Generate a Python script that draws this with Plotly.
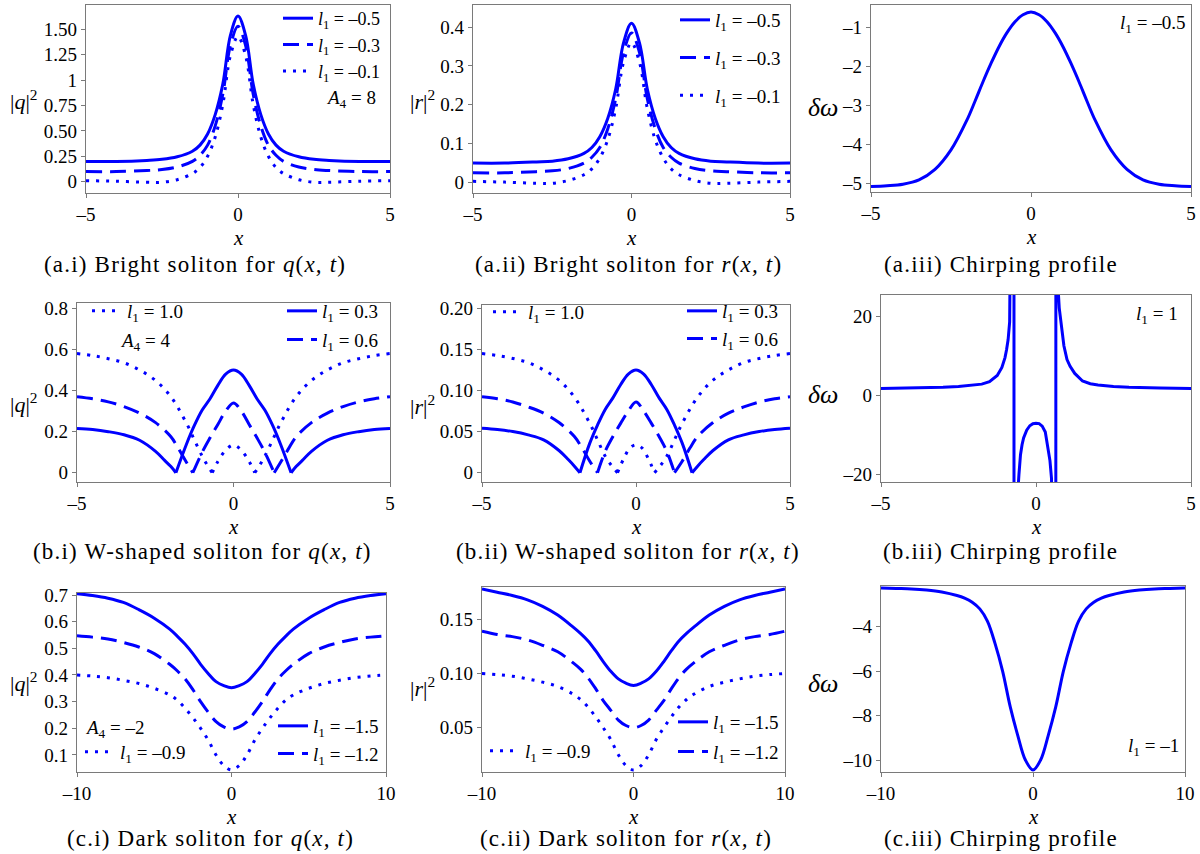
import plotly.graph_objects as go

W, H = 1200, 854
BLUE = "#0000ff"
FRAME = "#7a7a7a"
SERIF = "Liberation Serif"

# ---- row a: bright solitons (x from -5 to 5) ----
xa = [-5, -4, -3, -2.5, -2, -1.5, -1.25, -1, -0.75, -0.5, -0.25, 0,
      0.25, 0.5, 0.75, 1, 1.25, 1.5, 2, 2.5, 3, 4, 5]
q_a_l05 = [0.20, 0.20, 0.21, 0.22, 0.245, 0.30, 0.36, 0.47, 0.66, 0.96, 1.44, 1.63,
           1.44, 0.96, 0.66, 0.47, 0.36, 0.30, 0.245, 0.22, 0.21, 0.20, 0.20]
q_a_l03 = [0.10, 0.10, 0.11, 0.12, 0.145, 0.20, 0.26, 0.36, 0.55, 0.86, 1.34, 1.53,
           1.34, 0.86, 0.55, 0.36, 0.26, 0.20, 0.145, 0.12, 0.11, 0.10, 0.10]
q_a_l01 = [0.01, 0.005, -0.005, -0.005, 0.02, 0.08, 0.14, 0.25, 0.44, 0.76, 1.24, 1.43,
           1.24, 0.76, 0.44, 0.25, 0.14, 0.08, 0.02, -0.005, -0.005, 0.005, 0.01]
r_a_l05 = [0.05, 0.05, 0.053, 0.055, 0.061, 0.075, 0.09, 0.118, 0.165, 0.24, 0.36, 0.41,
           0.36, 0.24, 0.165, 0.118, 0.09, 0.075, 0.061, 0.055, 0.053, 0.05, 0.05]
r_a_l03 = [0.025, 0.025, 0.028, 0.03, 0.036, 0.05, 0.065, 0.09, 0.138, 0.215, 0.335, 0.385,
           0.335, 0.215, 0.138, 0.09, 0.065, 0.05, 0.036, 0.03, 0.028, 0.025, 0.025]
r_a_l01 = [0.003, 0.001, -0.002, -0.002, 0.005, 0.02, 0.035, 0.063, 0.11, 0.19, 0.31, 0.36,
           0.31, 0.19, 0.11, 0.063, 0.035, 0.02, 0.005, -0.002, -0.002, 0.001, 0.003]
x_chirp_a = [-5, -4.5, -4, -3.5, -3, -2.5, -2, -1.75, -1.5, -1.25, -1, -0.75, -0.5, -0.25, 0,
             0.25, 0.5, 0.75, 1, 1.25, 1.5, 1.75, 2, 2.5, 3, 3.5, 4, 4.5, 5]
chirp_a = [-5.09, -5.07, -5.03, -4.92, -4.65, -4.15, -3.38, -2.9, -2.4, -1.93, -1.5, -1.14, -0.86, -0.68, -0.61,
           -0.68, -0.86, -1.14, -1.5, -1.93, -2.4, -2.9, -3.38, -4.15, -4.65, -4.92, -5.03, -5.07, -5.09]

# ---- row b: W-shaped solitons (None splits the curve at each cusp) ----
x_b_l03 = [-5, -4.5, -4, -3.5, -3, -2.5, -2.2, -2, -1.84, None,
           -1.84, -1.5, -1.25, -1, -0.75, -0.5, -0.25, 0, 0.25, 0.5, 0.75, 1, 1.25, 1.5, 1.84, None,
           1.84, 2, 2.2, 2.5, 3, 3.5, 4, 4.5, 5]
q_b_l03 = [0.215, 0.21, 0.2, 0.185, 0.158, 0.105, 0.06, 0.03, 0, None,
           0, 0.14, 0.23, 0.305, 0.36, 0.425, 0.48, 0.5, 0.48, 0.425, 0.36, 0.305, 0.23, 0.14, 0, None,
           0, 0.03, 0.06, 0.105, 0.158, 0.185, 0.2, 0.21, 0.215]
x_b_l06 = [-5, -4.5, -4, -3.5, -3, -2.5, -2, -1.75, -1.5, -1.3, None,
           -1.3, -1, -0.75, -0.5, -0.25, 0, 0.25, 0.5, 0.75, 1, 1.3, None,
           1.3, 1.5, 1.75, 2, 2.5, 3, 3.5, 4, 4.5, 5]
q_b_l06 = [0.37, 0.36, 0.345, 0.322, 0.29, 0.245, 0.175, 0.115, 0.05, 0, None,
           0, 0.1, 0.17, 0.235, 0.3, 0.34, 0.3, 0.235, 0.17, 0.1, 0, None,
           0, 0.05, 0.115, 0.175, 0.245, 0.29, 0.322, 0.345, 0.36, 0.37]
x_b_l10 = [-5, -4.5, -4, -3.5, -3, -2.5, -2, -1.5, -1.25, -1, -0.85, -0.68, None,
           -0.68, -0.5, -0.25, 0, 0.25, 0.5, 0.68, None,
           0.68, 0.85, 1, 1.25, 1.5, 2, 2.5, 3, 3.5, 4, 4.5, 5]
q_b_l10 = [0.58, 0.57, 0.555, 0.535, 0.5, 0.45, 0.37, 0.24, 0.16, 0.08, 0.04, 0, None,
           0, 0.055, 0.11, 0.135, 0.11, 0.055, 0, None,
           0, 0.04, 0.08, 0.16, 0.24, 0.37, 0.45, 0.5, 0.535, 0.555, 0.57, 0.58]

xr_b_l03 = [-5, -4.5, -4, -3.5, -3, -2.5, -2.2, -2, -1.82, None,
            -1.82, -1.5, -1.25, -1, -0.75, -0.5, -0.25, 0, 0.25, 0.5, 0.75, 1, 1.25, 1.5, 1.82, None,
            1.82, 2, 2.2, 2.5, 3, 3.5, 4, 4.5, 5]
r_b_l03 = [0.054, 0.0525, 0.05, 0.046, 0.04, 0.027, 0.016, 0.008, 0, None,
           0, 0.036, 0.058, 0.077, 0.091, 0.107, 0.12, 0.125, 0.12, 0.107, 0.091, 0.077, 0.058, 0.036, 0, None,
           0, 0.008, 0.016, 0.027, 0.04, 0.046, 0.05, 0.0525, 0.054]
xr_b_l06 = [-5, -4.5, -4, -3.5, -3, -2.5, -2, -1.75, -1.5, -1.25, None,
            -1.25, -1, -0.75, -0.5, -0.25, 0, 0.25, 0.5, 0.75, 1, 1.25, None,
            1.25, 1.5, 1.75, 2, 2.5, 3, 3.5, 4, 4.5, 5]
r_b_l06 = [0.0925, 0.09, 0.086, 0.08, 0.0725, 0.061, 0.044, 0.03, 0.014, 0, None,
           0, 0.026, 0.044, 0.06, 0.075, 0.086, 0.075, 0.06, 0.044, 0.026, 0, None,
           0, 0.014, 0.03, 0.044, 0.061, 0.0725, 0.08, 0.086, 0.09, 0.0925]
xr_b_l10 = [-5, -4.5, -4, -3.5, -3, -2.5, -2, -1.5, -1.25, -1, -0.8, -0.6, None,
            -0.6, -0.4, -0.2, 0, 0.2, 0.4, 0.6, None,
            0.6, 0.8, 1, 1.25, 1.5, 2, 2.5, 3, 3.5, 4, 4.5, 5]
r_b_l10 = [0.145, 0.1425, 0.139, 0.134, 0.125, 0.1125, 0.092, 0.06, 0.04, 0.02, 0.009, 0, None,
           0, 0.017, 0.03, 0.034, 0.03, 0.017, 0, None,
           0, 0.009, 0.02, 0.04, 0.06, 0.092, 0.1125, 0.125, 0.134, 0.139, 0.1425, 0.145]

x_chirp_b = [-5, -4, -3, -2.5, -2, -1.75, -1.5, -1.25, -1.1, -1, -0.95, -0.9, -0.85, -0.82,
             -0.78, -0.74, -0.72, -0.70, -0.65, -0.6, -0.55, -0.5, -0.45, -0.4, -0.3, -0.2,
             -0.1, 0, 0.1, 0.2, 0.3, 0.4, 0.45, 0.5, 0.55, 0.6, 0.63, 0.65, 0.68, 0.7, 0.72,
             0.75, 0.8, 0.85, 0.9, 1, 1.1, 1.25, 1.5, 1.75, 2, 2.5, 3, 4, 5]
chirp_b = [1.7, 1.8, 2.0, 2.2, 2.5, 2.8, 3.4, 5.0, 7.0, 9.5, 11.5, 14, 18.5, 26,
           45, 120, 600, -600, -50, -26, -20, -15, -12.5, -10.8, -8.8, -7.7,
           -7.2, -7.05, -7.15, -7.8, -9.3, -13.5, -16.5, -21, -32, -80, -600, 600, 120, 50, 26,
           22, 18.5, 16, 12.5, 9.0, 7.3, 5.5, 3.6, 2.9, 2.6, 2.2, 2.0, 1.8, 1.7]

# ---- row c: dark solitons (x from -10 to 10) ----
xc = [-10, -9, -8, -7, -6, -5, -4, -3.5, -3, -2.5, -2, -1.5, -1, -0.5, 0,
      0.5, 1, 1.5, 2, 2.5, 3, 3.5, 4, 5, 6, 7, 8, 9, 10]
q_c_l15 = [0.705, 0.698, 0.688, 0.672, 0.645, 0.613, 0.572, 0.545, 0.515, 0.48, 0.44, 0.405, 0.375, 0.36, 0.352,
           0.36, 0.375, 0.405, 0.44, 0.48, 0.515, 0.545, 0.572, 0.613, 0.645, 0.672, 0.688, 0.698, 0.705]
q_c_l12 = [0.547, 0.542, 0.535, 0.522, 0.505, 0.48, 0.44, 0.415, 0.385, 0.345, 0.3, 0.26, 0.225, 0.205, 0.197,
           0.205, 0.225, 0.26, 0.3, 0.345, 0.385, 0.415, 0.44, 0.48, 0.505, 0.522, 0.535, 0.542, 0.547]
q_c_l09 = [0.4, 0.396, 0.39, 0.38, 0.368, 0.35, 0.325, 0.305, 0.275, 0.24, 0.2, 0.155, 0.1, 0.06, 0.044,
           0.06, 0.1, 0.155, 0.2, 0.24, 0.275, 0.305, 0.325, 0.35, 0.368, 0.38, 0.39, 0.396, 0.4]
r_c_l15 = [0.178, 0.175, 0.172, 0.168, 0.162, 0.154, 0.143, 0.137, 0.13, 0.121, 0.111, 0.102, 0.095, 0.091, 0.089,
           0.091, 0.095, 0.102, 0.111, 0.121, 0.13, 0.137, 0.143, 0.154, 0.162, 0.168, 0.172, 0.175, 0.178]
r_c_l12 = [0.139, 0.136, 0.134, 0.131, 0.126, 0.12, 0.11, 0.104, 0.096, 0.086, 0.075, 0.066, 0.057, 0.052, 0.05,
           0.052, 0.057, 0.066, 0.075, 0.086, 0.096, 0.104, 0.11, 0.12, 0.126, 0.131, 0.134, 0.136, 0.139]
r_c_l09 = [0.1, 0.099, 0.0975, 0.095, 0.092, 0.088, 0.081, 0.076, 0.069, 0.06, 0.05, 0.039, 0.025, 0.015, 0.011,
           0.015, 0.025, 0.039, 0.05, 0.06, 0.069, 0.076, 0.081, 0.088, 0.092, 0.095, 0.0975, 0.099, 0.1]
x_chirp_c = [-10, -9, -8, -7, -6, -5, -4.5, -4, -3.5, -3, -2.5, -2, -1.5, -1, -0.5, 0,
             0.5, 1, 1.5, 2, 2.5, 3, 3.5, 4, 4.5, 5, 6, 7, 8, 9, 10]
chirp_c = [-2.26, -2.28, -2.3, -2.35, -2.44, -2.6, -2.72, -2.9, -3.2, -3.75, -4.75, -6.0, -7.6, -8.9, -10.0, -10.45,
           -10.0, -8.9, -7.6, -6.0, -4.75, -3.75, -3.2, -2.9, -2.72, -2.6, -2.44, -2.35, -2.3, -2.28, -2.26]

# tick labels
ticks_x5 = ([-5, 0, 5], ["–5", "0", "5"])
ticks_x10 = ([-10, 0, 10], ["–10", "0", "10"])
ticks_y = {
    1: ([0, 0.25, 0.5, 0.75, 1, 1.25, 1.5], ["0", "0.25", "0.50", "0.75", "1", "1.25", "1.50"]),
    2: ([0, 0.1, 0.2, 0.3, 0.4], ["0", "0.1", "0.2", "0.3", "0.4"]),
    3: ([-5, -4, -3, -2, -1], ["–5", "–4", "–3", "–2", "–1"]),
    4: ([0, 0.2, 0.4, 0.6, 0.8], ["0", "0.2", "0.4", "0.6", "0.8"]),
    5: ([0, 0.05, 0.1, 0.15, 0.2], ["0", "0.05", "0.10", "0.15", "0.20"]),
    6: ([-20, 0, 20], ["–20", "0", "20"]),
    7: ([0.1, 0.2, 0.3, 0.4, 0.5, 0.6, 0.7], ["0.1", "0.2", "0.3", "0.4", "0.5", "0.6", "0.7"]),
    8: ([0.05, 0.1, 0.15], ["0.05", "0.10", "0.15"]),
    9: ([-10, -8, -6, -4], ["–10", "–8", "–6", "–4"]),
}

# panel boxes in pixels: left, right, top, bottom ; then x range, y range
panels = {
    1: (86, 390, 5, 193, [-5, 5], [-0.111, 1.739]),
    2: (473, 790, 5, 193, [-5, 5], [-0.027, 0.457]),
    3: (871, 1191, 5, 192, [-5, 5], [-5.23, -0.43]),
    4: (77, 390, 303, 482, [-5, 5], [-0.045, 0.826]),
    5: (482, 790, 305, 482, [-5, 5], [-0.0113, 0.204]),
    6: (881, 1191, 295, 482, [-5, 5], [-21.9, 25.3]),
    7: (77, 386, 593, 772, [-10, 10], [0.036, 0.7075]),
    8: (482, 785, 587, 772, [-10, 10], [0.0091, 0.1798]),
    9: (881, 1185, 586, 772, [-10, 10], [-10.54, -2.17]),
}


def fx(px):
    return px / W


def fy(py):
    return 1 - py / H


DASH = {"solid": "solid", "dash": "16px,8px", "dot": "3px,7px"}

fig = go.Figure()


def ref(p):
    return ("x", "y") if p == 1 else (f"x{p}", f"y{p}")


def add(p, x, y, style, name=None, legend="legend", shape="spline"):
    xr, yr = ref(p)
    fig.add_trace(go.Scatter(
        x=x, y=y, mode="lines", xaxis=xr, yaxis=yr,
        line=dict(color=BLUE, width=3, dash=DASH[style], shape=shape),
        name=name if name else "", showlegend=name is not None,
        legend=legend, legendgroup=f"{legend}-{name}", hoverinfo="skip"))


def l1(v):
    return f"<i>l</i><sub>1</sub> = {v}"


add(1, xa, q_a_l05, "solid", l1("–0.5"), "legend")
add(1, xa, q_a_l03, "dash", l1("–0.3"), "legend")
add(1, xa, q_a_l01, "dot", l1("–0.1"), "legend")
add(2, xa, r_a_l05, "solid", l1("–0.5"), "legend2")
add(2, xa, r_a_l03, "dash", l1("–0.3"), "legend2")
add(2, xa, r_a_l01, "dot", l1("–0.1"), "legend2")
add(3, x_chirp_a, chirp_a, "solid")

add(4, x_b_l10, q_b_l10, "dot", l1("1.0"), "legend3")
add(4, x_b_l03, q_b_l03, "solid", l1("0.3"), "legend4")
add(4, x_b_l06, q_b_l06, "dash", l1("0.6"), "legend4")
add(5, xr_b_l10, r_b_l10, "dot", l1("1.0"), "legend5")
add(5, xr_b_l03, r_b_l03, "solid", l1("0.3"), "legend6")
add(5, xr_b_l06, r_b_l06, "dash", l1("0.6"), "legend6")
add(6, x_chirp_b, chirp_b, "solid", shape="linear")

add(7, xc, q_c_l09, "dot", l1("–0.9"), "legend7")
add(7, xc, q_c_l15, "solid", l1("–1.5"), "legend8")
add(7, xc, q_c_l12, "dash", l1("–1.2"), "legend8")
add(8, xc, r_c_l09, "dot", l1("–0.9"), "legend9")
add(8, xc, r_c_l15, "solid", l1("–1.5"), "legend10")
add(8, xc, r_c_l12, "dash", l1("–1.2"), "legend10")
add(9, x_chirp_c, chirp_c, "solid")

axis_common = dict(showline=True, mirror=True, linecolor=FRAME, linewidth=1.3,
                   ticks="outside", ticklen=4, tickcolor=FRAME, showgrid=False,
                   zeroline=False, tickfont=dict(family=SERIF, size=19, color="black"))

layout = {}
for p, (l, r, t, b, xrng, yrng) in panels.items():
    sx = "" if p == 1 else str(p)
    tx = ticks_x5 if p <= 6 else ticks_x10
    ty = ticks_y[p]
    layout[f"xaxis{sx}"] = dict(axis_common, domain=[fx(l), fx(r)], range=xrng,
                                anchor=f"y{sx}", tickvals=tx[0], ticktext=tx[1])
    layout[f"yaxis{sx}"] = dict(axis_common, domain=[fy(b), fy(t)], range=yrng,
                                anchor=f"x{sx}", tickvals=ty[0], ticktext=ty[1])
fig.update_layout(**layout)


def legend_at(px, py, gap, size=19):
    return dict(x=fx(px), y=fy(py), xanchor="left", yanchor="top",
                bgcolor="rgba(0,0,0,0)", tracegroupgap=gap, itemwidth=30,
                font=dict(family=SERIF, size=size, color="black"))


fig.update_layout(
    legend=legend_at(278, 0, 0, 18),
    legend2=legend_at(675, 1, 10),
    legend3=legend_at(87, 292, 0),
    legend4=legend_at(282, 292, 1),
    legend5=legend_at(488, 293, 0),
    legend6=legend_at(682, 292, 0),
    legend7=legend_at(80, 733, 0),
    legend8=legend_at(273, 707, 0),
    legend9=legend_at(485, 732, 0),
    legend10=legend_at(673, 703, 2),
)

ann = []


def text(px, py, s, size=19):
    ann.append(dict(x=fx(px), y=fy(py), xref="paper", yref="paper", text=s,
                    showarrow=False, xanchor="center", yanchor="middle",
                    font=dict(family=SERIF, size=size, color="black")))


qlab = "|<i>q</i>|<sup>2</sup>"
rlab = "|<i>r</i>|<sup>2</sup>"
dw = "<i>δω</i>"
for px, py, s, sz in [(24, 100, qlab, 22), (422, 100, rlab, 22), (823, 107, dw, 26),
                      (24, 403, qlab, 22), (422, 405, rlab, 22), (823, 395, dw, 26),
                      (24, 682, qlab, 22), (422, 687, rlab, 22), (823, 683, dw, 26)]:
    text(px, py, s, sz)

# x axis titles
for p, (l, r, t, b, xrng, yrng) in panels.items():
    text((l + r) / 2, b + 45, "<i>x</i>", 21)

# parameter notes
text(351, 99, "<i>A</i><sub>4</sub> = 8")
text(145, 342, "<i>A</i><sub>4</sub> = 4")
text(114, 729, "<i>A</i><sub>4</sub> = –2")
text(1152, 24, l1("–0.5"))
text(1157, 315, l1("1"))
text(1153, 747, l1("–1"))

captions = [
    (195, 264, "(a.i) Bright soliton for <i>q</i>(<i>x, t</i>)"),
    (628, 264, "(a.ii) Bright soliton for <i>r</i>(<i>x, t</i>)"),
    (1001, 264, "(a.iii) Chirping profile"),
    (202, 551, "(b.i) W-shaped soliton for <i>q</i>(<i>x, t</i>)"),
    (628, 551, "(b.ii) W-shaped soliton for <i>r</i>(<i>x, t</i>)"),
    (1001, 551, "(b.iii) Chirping profile"),
    (210, 838, "(c.i) Dark soliton for <i>q</i>(<i>x, t</i>)"),
    (626, 838, "(c.ii) Dark soliton for <i>r</i>(<i>x, t</i>)"),
    (1001, 838, "(c.iii) Chirping profile"),
]
for px, py, s in captions:
    text(px, py, f'<span style="letter-spacing:1.2px">{s}</span>', 23)

fig.update_layout(
    width=W, height=H, margin=dict(l=0, r=0, t=0, b=0, autoexpand=False),
    paper_bgcolor="white", plot_bgcolor="white",
    font=dict(family=SERIF),
    annotations=ann, showlegend=True,
)

# drop the page's default body margin so the figure fills the window exactly
fig.write_html("out.html", config={"displayModeBar": False},
               post_script="document.body.style.margin = '0';")
